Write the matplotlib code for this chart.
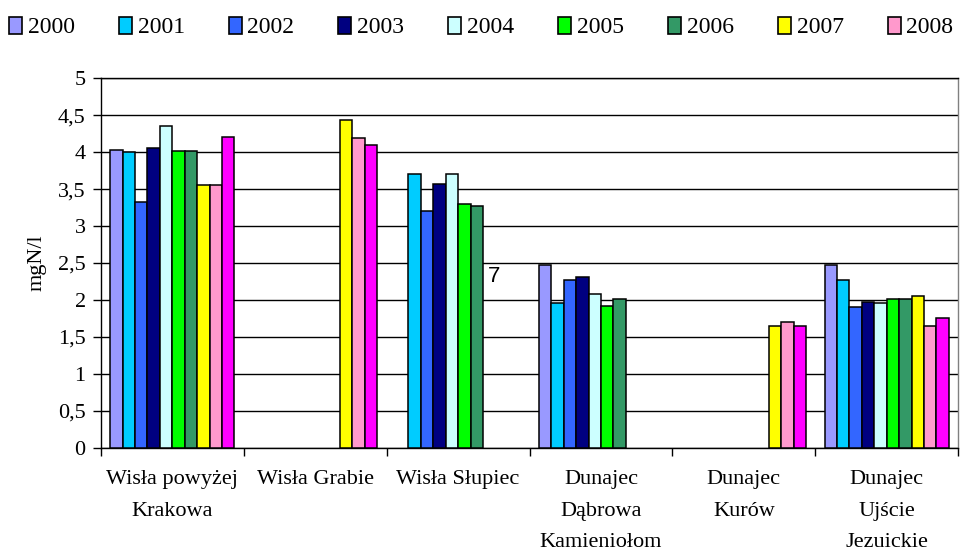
import numpy as np
import matplotlib.pyplot as plt
from matplotlib.patches import Patch

nan = np.nan

stations = ["Wisła powyżej\nKrakowa", "Wisła Grabie", "Wisła Słupiec",
            "Dunajec\nDąbrowa\nKamieniołom", "Dunajec\nKurów",
            "Dunajec\nUjście\nJezuickie"]

years = ["2000", "2001", "2002", "2003", "2004", "2005", "2006", "2007", "2008", "2009"]

# mgN/l per station, one list per year
y2000 = [4.03, nan, nan, 2.47, nan, 2.47]
y2001 = [4.00, nan, 3.70, 1.96, nan, 2.27]
y2002 = [3.33, nan, 3.21, 2.27, nan, 1.91]
y2003 = [4.05, nan, 3.57, 2.31, nan, 1.98]
y2004 = [4.35, nan, 3.70, 2.08, nan, 1.96]
y2005 = [4.02, nan, 3.30, 1.92, nan, 2.02]
y2006 = [4.02, nan, 3.27, 2.02, nan, 2.02]
y2007 = [3.56, 4.44, nan, nan, 1.65, 2.05]
y2008 = [3.56, 4.19, nan, nan, 1.70, 1.65]
y2009 = [4.21, 4.09, nan, nan, 1.65, 1.76]

series = [y2000, y2001, y2002, y2003, y2004, y2005, y2006, y2007, y2008, y2009]
colors = ["#9999FF", "#00CCFF", "#3366FF", "#000080", "#CCFFFF",
          "#00FF00", "#339966", "#FFFF00", "#FF99CC", "#FF00FF"]

plt.rcParams["font.family"] = ["Liberation Serif", "DejaVu Serif"]

fig = plt.figure(figsize=(9.61, 5.5), dpi=100)
ax = fig.add_axes([0.105, 0.1855, 0.892, 0.6725])

x = np.arange(len(stations))
w = 0.087
n = len(series)
for i, (vals, c) in enumerate(zip(series, colors)):
    ax.bar(x + (i - (n - 1) / 2) * w, vals, width=w, color=c,
           edgecolor="black", linewidth=1.1, zorder=3)

ax.set_ylim(0, 5)
ax.set_yticks(np.arange(0, 5.01, 0.5))
ax.set_yticklabels([f"{v:g}".replace(".", ",") for v in np.arange(0, 5.01, 0.5)],
                   fontsize=16)
ax.yaxis.grid(True, color="black", linewidth=1, zorder=0)

ax.set_xlim(-0.5, len(stations) - 0.5)
ax.set_xticks(np.arange(-0.5, len(stations), 1))
ax.set_xticklabels([])
ax.set_xticks(x, minor=True)
ax.set_xticklabels(stations, minor=True, fontsize=16, linespacing=1.88, va="top")
ax.tick_params(axis="x", which="minor", length=0, pad=16)
ax.tick_params(axis="y", pad=5)
ax.tick_params(axis="both", which="major", length=6, width=1, direction="out",
               color="black")

for s in ax.spines.values():
    s.set_color("black")
    s.set_linewidth(1)
ax.spines["right"].set_color("#808080")

ax.set_ylabel("mgN/l", fontsize=16, labelpad=8)

ax.text(2.21, 2.32, "7", fontsize=16, family="Liberation Sans", va="center")

handles = [Patch(facecolor=c, edgecolor="black", linewidth=1.2) for c in colors[:9]]
fig.legend(handles, years[:9], loc="upper left", bbox_to_anchor=(-0.008, 1.0),
           ncol=9, frameon=False, fontsize=17, handlelength=0.55, handleheight=0.75,
           handletextpad=0.25, columnspacing=1.86, borderaxespad=0.3)

fig.savefig("out.png", dpi=100)
